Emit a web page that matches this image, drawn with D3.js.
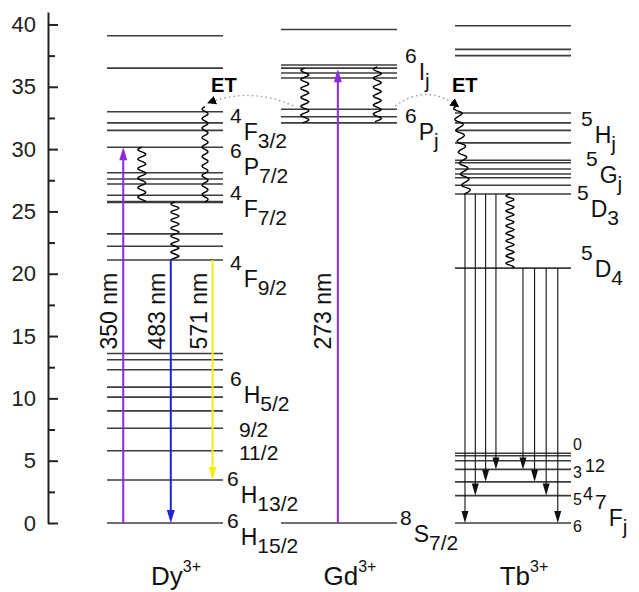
<!DOCTYPE html>
<html>
<head>
<meta charset="utf-8">
<script src="https://cdn.jsdelivr.net/npm/d3@7"></script>
<style>
body { margin: 0; background: #fff; }
svg { font-family: "Liberation Sans", Arial, sans-serif; }
</style>
</head>
<body>
<script>
// energies in 10^3 cm^-1
var ions = ["Dy", "Gd", "Tb"];
var energyTicks = [0, 5, 10, 15, 20, 25, 30, 35, 40];
var minorTicks = [2.5, 7.5, 12.5, 17.5, 22.5, 27.5, 32.5, 37.5];

var dyLevels = [0, 3.45, 5.8, 7.6, 9.0, 10.1, 10.9, 12.3, 13.1, 13.6, 21.1, 22.2, 23.2,
                25.75, 26.3, 27.2, 27.6, 28.1, 30.15, 31.5, 32.1, 33.0, 36.5, 39.1];
var gdLevels = [0, 32.1, 32.6, 33.2, 35.7, 36.1, 36.5, 36.75, 39.6];
var tbLevels = [20.45, 26.4, 27.1, 27.7, 28.0, 28.4, 28.9, 29.1, 30.5, 31.5, 32.1, 32.9,
                37.5, 38.0, 39.9];
var tbFJ = [{j: 0, e: 5.6}, {j: 1, e: 5.4}, {j: 2, e: 5.0}, {j: 3, e: 4.3},
            {j: 4, e: 3.3}, {j: 5, e: 2.2}, {j: 6, e: 0}];
var dyBold = [25.75];

var dyLines = [
  {name: "350 nm", from: 0, to: 30.15},
  {name: "483 nm", from: 21.1, to: 0},
  {name: "571 nm", from: 21.1, to: 3.45}
];
var gdLines = [{name: "273 nm", from: 0, to: 36.4}];
var tbD3 = 26.4, tbD4 = 20.45;
var tbFromD3 = [0, 2.2, 3.3, 4.3];
var tbFromD4 = [4.3, 3.3, 2.2, 0];

var dyRelax = [[30.15, 25.75], [33.4, 25.75], [25.75, 21.1]];
var gdRelax = [[36.5, 32.1], [36.6, 32.2]];
var tbRelax = [[33.5, 26.4], [26.4, 20.45]];

var dyTerms = [
  {sup: "4", main: "F", sub: "3/2", e: 30.74},
  {sup: "6", main: "P", sub: "7/2", e: 27.93},
  {sup: "4", main: "F", sub: "7/2", e: 24.56},
  {sup: "4", main: "F", sub: "9/2", e: 18.94},
  {sup: "6", main: "H", sub: "5/2", e: 9.63},
  {sup: "6", main: "H", sub: "13/2", e: 1.58},
  {sup: "6", main: "H", sub: "15/2", e: -1.77}
];
var dyJ = [{text: "9/2", e: 6.93}, {text: "11/2", e: 5.06}];
var gdTerms = [
  {sup: "6", main: "I", sub: "j", e: 35.55},
  {sup: "6", main: "P", sub: "j", e: 30.74},
  {sup: "8", main: "S", sub: "7/2", e: -1.52}
];
var tbTerms = [
  {sup: "5", main: "H", sub: "j", e: 30.5},
  {sup: "5", main: "G", sub: "j", e: 27.29},
  {sup: "5", main: "D", sub: "3", e: 24.56},
  {sup: "5", main: "D", sub: "4", e: 19.74}
];

var svg = d3.select("body").append("svg")
    .attr("width", 639)
    .attr("height", 592);

var y = d3.scaleLinear().domain([0, 41]).range([523, 12]);
var col = d3.scaleBand().domain(ions).range([107, 571]).paddingInner(1 / 3);
var bw = col.bandwidth();
function xIn(ion, f) { return col(ion) + f * bw; }

// axis
var axisX = 48;
var ax = svg.append("g")
    .attr("transform", "translate(" + axisX + ",0)")
    .call(d3.axisLeft(y).tickValues(energyTicks).tickSizeInner(-10).tickSizeOuter(0).tickPadding(12));
ax.attr("font-family", null).attr("font-size", 22);
ax.select(".domain").attr("stroke", "#222").attr("stroke-width", 2);
ax.selectAll(".tick line").attr("stroke", "#222").attr("stroke-width", 2);
ax.selectAll(".tick text").attr("fill", "#222");

var axm = svg.append("g")
    .attr("transform", "translate(" + axisX + ",0)")
    .call(d3.axisLeft(y).tickValues(minorTicks).tickSizeInner(-7).tickSizeOuter(0).tickFormat(""));
axm.select(".domain").remove();
axm.selectAll(".tick line").attr("stroke", "#222").attr("stroke-width", 2);

// levels
function drawLevels(ion, levels) {
  svg.append("g").selectAll("line")
    .data(levels)
    .join("line")
    .attr("x1", col(ion))
    .attr("x2", col(ion) + bw)
    .attr("y1", function(d) { return y(d); })
    .attr("y2", function(d) { return y(d); })
    .attr("stroke", "#3c3c3c")
    .attr("stroke-width", function(d) { return ion == "Dy" && dyBold.indexOf(d) >= 0 ? 2.6 : 1.6; });
}
drawLevels("Dy", dyLevels);
drawLevels("Gd", gdLevels);
drawLevels("Tb", tbLevels);
drawLevels("Tb", tbFJ.map(function(d) { return d.e; }));

// wavy nonradiative relaxations
function wave(x0, y0, x1, y1, amp, period) {
  var len = Math.hypot(x1 - x0, y1 - y0), n = Math.ceil(len), pts = [];
  var ux = (x1 - x0) / len, uy = (y1 - y0) / len;
  for (var i = 0; i <= n; i++) {
    var s = i / n * len, off = amp * Math.sin(2 * Math.PI * s / period);
    pts.push([x0 + ux * s - uy * off, y0 + uy * s + ux * off]);
  }
  return d3.line()(pts);
}
var waves = svg.append("g").attr("fill", "none").attr("stroke", "#000").attr("stroke-width", 1.4);
var dyWx = [0.30, 0.845, 0.585], dyWa = [4, 3, 4], dyWp = [9.5, 9.5, 8];
dyRelax.forEach(function(r, i) {
  waves.append("path").attr("d", wave(xIn("Dy", dyWx[i]), y(r[0]), xIn("Dy", dyWx[i]), y(r[1]), dyWa[i], dyWp[i]));
});
var gdWx = [0.205, 0.83];
gdRelax.forEach(function(r, i) {
  waves.append("path").attr("d", wave(xIn("Gd", gdWx[i]), y(r[0]), xIn("Gd", gdWx[i]), y(r[1]), 4, 9));
});
waves.append("path").attr("d", wave(xIn("Tb", 0.02), y(tbRelax[0][0]), xIn("Tb", 0.10), y(tbRelax[0][1]), 4, 11));
waves.append("path").attr("d", wave(xIn("Tb", 0.474), y(tbRelax[1][0]), xIn("Tb", 0.474), y(tbRelax[1][1]), 4, 7.5));

// radiative arrows
function arrow(g, x, e0, e1, color, width, hw, hl) {
  var y0 = y(e0), y1 = y(e1), dir = y1 > y0 ? 1 : -1;
  g.append("line").attr("x1", x).attr("x2", x).attr("y1", y0).attr("y2", y1 - dir * 4)
    .attr("stroke", color).attr("stroke-width", width);
  g.append("path")
    .attr("d", "M" + x + "," + y1 + "L" + (x - hw / 2) + "," + (y1 - dir * hl) + "L" + (x + hw / 2) + "," + (y1 - dir * hl) + "Z")
    .attr("fill", color);
}
var colors = {"350 nm": "#8a2be2", "483 nm": "#2222d6", "571 nm": "#f2ee10", "273 nm": "#8a2be2"};
var arr = svg.append("g");
var dyAx = [0.14, 0.55, 0.91];
dyLines.forEach(function(d, i) {
  arrow(arr, xIn("Dy", dyAx[i]), d.from, d.to, colors[d.name], 2, 8, 13);
});
gdLines.forEach(function(d) {
  arrow(arr, xIn("Gd", 0.49), d.from, d.to, colors[d.name], 2, 8, 13);
});
tbFromD3.forEach(function(t, i) {
  arrow(arr, xIn("Tb", 0.086 + i * 0.089), tbD3, t, "#111", 1.1, 7, 12);
});
tbFromD4.forEach(function(t, i) {
  arrow(arr, xIn("Tb", 0.586 + i * 0.1), tbD4, t, "#111", 1.1, 7, 12);
});

// wavelength labels
var nm = svg.append("g").attr("font-size", 23).attr("fill", "#111").attr("text-anchor", "middle");
dyLines.forEach(function(d, i) {
  nm.append("text").attr("transform", "translate(" + (xIn("Dy", dyAx[i]) - 6) + "," + y(17) + ") rotate(-90)").text(d.name);
});
gdLines.forEach(function(d) {
  nm.append("text").attr("transform", "translate(" + (xIn("Gd", 0.49) - 7) + "," + y(17) + ") rotate(-90)").text(d.name);
});

// energy transfer
var defs = svg.append("defs");
defs.append("marker").attr("id", "et").attr("viewBox", "0 0 10 10").attr("refX", 9).attr("refY", 5)
  .attr("markerWidth", 9).attr("markerHeight", 9).attr("markerUnits", "userSpaceOnUse").attr("orient", "auto")
  .append("path").attr("d", "M0,0L10,5L0,10Z").attr("fill", "#000");
function etPath(xa, ea, xb, eb, ec) {
  var p = d3.path();
  p.moveTo(xa, y(ea));
  p.quadraticCurveTo((xa + xb) / 2, y(ec), xb, y(eb));
  return p.toString();
}
var et = svg.append("g").attr("fill", "none").attr("stroke", "#999").attr("stroke-width", 1.6)
  .attr("stroke-dasharray", "0.1 4.5").attr("stroke-linecap", "round");
et.append("path").attr("d", etPath(xIn("Gd", 0.1), 33.5, xIn("Dy", 0.87), 33.7, 35.0)).attr("marker-end", "url(#et)");
et.append("path").attr("d", etPath(xIn("Gd", 0.99), 33.5, xIn("Tb", 0.03), 33.4, 35.3)).attr("marker-end", "url(#et)");
svg.append("g").attr("font-size", 20).attr("font-weight", "bold").attr("fill", "#000")
  .selectAll("text").data(["Dy", "Tb"]).join("text")
  .attr("x", function(d) { return d == "Dy" ? xIn("Dy", 0.897) : xIn("Tb", -0.026); })
  .attr("y", y(34.6))
  .text("ET");

// term labels
function term(g, x, d) {
  var t = g.append("text").attr("x", x).attr("y", y(d.e));
  t.append("tspan").attr("font-size", 21).attr("dy", -17).text(d.sup);
  t.append("tspan").attr("font-size", 23).attr("dy", 17).attr("dx", 2).text(d.main);
  t.append("tspan").attr("font-size", 21).attr("dy", 8).text(d.sub);
}
var tl = svg.append("g").attr("fill", "#111");
dyTerms.forEach(function(d) { term(tl, col("Dy") + bw + (d.sub.length > 3 ? 4 : 7), d); });
dyJ.forEach(function(d) {
  tl.append("text").attr("x", col("Dy") + bw + 16).attr("y", y(d.e)).attr("font-size", 21).text(d.text);
});
gdTerms.forEach(function(d) { term(tl, col("Gd") + bw + (d.main == "S" ? 3 : 8), d); });
tbTerms.forEach(function(d) { term(tl, col("Tb") + bw + (d.main == "G" ? 15 : d.main == "D" && d.sub == "3" ? 6 : 10), d); });

// 7F_J labels
var fx = col("Tb") + bw;
tbFJ.forEach(function(d) {
  if ([0, 3, 5, 6].indexOf(d.j) < 0) return;
  tl.append("text").attr("x", fx + 2).attr("y", y(d.e) + (d.j == 0 ? -3 : 9)).attr("font-size", 16).text(d.j);
});
tl.append("text").attr("x", fx + 14).attr("y", y(tbFJ[1].e) + 16).attr("font-size", 18).text("12");
tl.append("text").attr("x", fx + 12).attr("y", y(tbFJ[4].e) + 18).attr("font-size", 18).text("4");
term(tl, fx + 24, {sup: "7", main: "F", sub: "j", e: -0.25});

// ion labels
var il = svg.append("g").attr("fill", "#111").attr("text-anchor", "middle");
ions.forEach(function(ion) {
  var t = il.append("text").attr("x", col(ion) + bw / 2 + 11).attr("y", 585).attr("font-size", 26);
  t.append("tspan").text(ion);
  t.append("tspan").attr("font-size", 16).attr("dy", -13).text("3+");
});
</script>
</body>
</html>
